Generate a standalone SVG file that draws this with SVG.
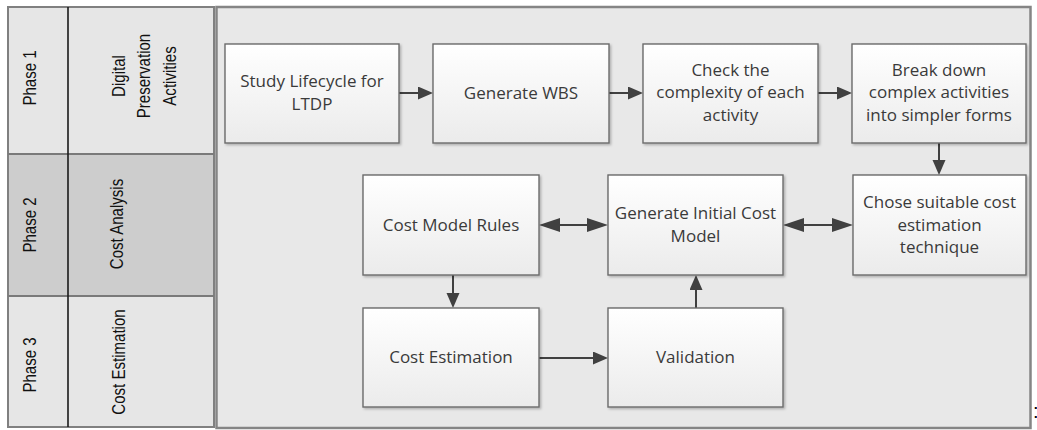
<svg xmlns="http://www.w3.org/2000/svg" width="1037" height="430" viewBox="0 0 1037 430">
<style>
.lane{stroke:none}
.frame{fill:none;stroke:#808080;stroke-width:2}
.lbl{font-family:"Liberation Sans",Arial,sans-serif;font-size:17.5px;fill:#111111;text-anchor:middle}
.box{fill:url(#g);stroke:#6b6b6b;stroke-width:1.4;filter:url(#sh)}
.t{font-family:"Open Sans","Noto Sans",sans-serif;font-size:17px;fill:#3a3a3a;text-anchor:middle}
.c{fill:none;stroke:#404040;stroke-width:2}
</style>
<defs>
<linearGradient id="g" x1="0" y1="0" x2="0" y2="1">
<stop offset="0" stop-color="#ffffff"/>
<stop offset="1" stop-color="#ebebeb"/>
</linearGradient>
<filter id="sh" x="-5%" y="-5%" width="115%" height="115%">
<feDropShadow dx="1.5" dy="1.5" stdDeviation="1" flood-color="#000" flood-opacity="0.25"/>
</filter>
<marker id="a" markerUnits="userSpaceOnUse" markerWidth="16" markerHeight="14" refX="12" refY="6.5" orient="auto">
<path d="M0,0 L15,6.5 L0,13 z" fill="#404040"/>
</marker>
<marker id="d" markerUnits="userSpaceOnUse" markerWidth="22" markerHeight="15" refX="18" refY="7" orient="auto-start-reverse">
<path d="M0,0 L21,7 L0,14 z" fill="#404040"/>
</marker>
</defs>
<rect x="0" y="0" width="1037" height="430" fill="#ffffff"/>
<g id="lanes">
<rect class="lane" x="8" y="7" width="206" height="147" fill="#e6e6e6"/>
<rect class="lane" x="8" y="154" width="206" height="142" fill="#cdcdcd"/>
<rect class="lane" x="8" y="296" width="206" height="131" fill="#e6e6e6"/>
<rect x="216.5" y="7" width="814" height="421" fill="#e8e8e8" stroke="#858585" stroke-width="2.5"/>
<rect class="frame" x="8" y="7" width="206" height="420"/>
<line x1="8" y1="154" x2="214" y2="154" stroke="#7a7a7a" stroke-width="2"/>
<line x1="8" y1="296" x2="214" y2="296" stroke="#7a7a7a" stroke-width="2"/>
<line x1="68" y1="7" x2="68" y2="427" stroke="#1a1a1a" stroke-width="1.6"/>
<text class="lbl" transform="translate(36,78) rotate(-90) scale(0.86,1)">Phase 1</text>
<text class="lbl" transform="translate(36,225) rotate(-90) scale(0.86,1)">Phase 2</text>
<text class="lbl" transform="translate(36,365) rotate(-90) scale(0.86,1)">Phase 3</text>
<text class="lbl" transform="translate(125,76) rotate(-90) scale(0.86,1)"><tspan x="0" y="0">Digital</tspan><tspan x="0" y="25.5">Preservation</tspan><tspan x="0" y="51">Activities</tspan></text>
<text class="lbl" transform="translate(123,224) rotate(-90) scale(0.86,1)">Cost Analysis</text>
<text class="lbl" transform="translate(125,362) rotate(-90) scale(0.86,1)">Cost Estimation</text>
</g>
<g id="connectors">
<line class="c" x1="399" y1="93" x2="430" y2="93" marker-end="url(#a)"/>
<line class="c" x1="609" y1="93" x2="640" y2="93" marker-end="url(#a)"/>
<line class="c" x1="818" y1="93" x2="849" y2="93" marker-end="url(#a)"/>
<line class="c" x1="939" y1="143" x2="939" y2="172" marker-end="url(#a)"/>
<line class="c" x1="542" y1="225" x2="605" y2="225" marker-start="url(#d)" marker-end="url(#d)"/>
<line class="c" x1="786" y1="225" x2="850" y2="225" marker-start="url(#d)" marker-end="url(#d)"/>
<line class="c" x1="453" y1="275" x2="453" y2="305" marker-end="url(#a)"/>
<line class="c" x1="539" y1="358" x2="605" y2="358" marker-end="url(#a)"/>
<line class="c" x1="696" y1="308" x2="696" y2="278" marker-end="url(#a)"/>
</g>
<g id="n1"><rect class="box" x="225" y="44" width="174" height="99"/><text class="t" x="312" y="87.3">Study Lifecycle for</text><text class="t" x="312" y="109.5">LTDP</text></g>
<g id="n2"><rect class="box" x="433" y="44" width="176" height="99"/><text class="t" x="521" y="98.5">Generate WBS</text></g>
<g id="n3"><rect class="box" x="643" y="44" width="175" height="99"/><text class="t" x="730.5" y="75.8">Check the</text><text class="t" x="730.5" y="98.3">complexity of each</text><text class="t" x="730.5" y="120.8">activity</text></g>
<g id="n4"><rect class="box" x="852" y="44" width="174" height="99"/><text class="t" x="939" y="75.8">Break down</text><text class="t" x="939" y="98.3">complex activities</text><text class="t" x="939" y="120.8">into simpler forms</text></g>
<g id="n5"><rect class="box" x="853" y="175" width="173" height="100"/><text class="t" x="939.5" y="208.3">Chose suitable cost</text><text class="t" x="939.5" y="230.5">estimation</text><text class="t" x="939.5" y="252.7">technique</text></g>
<g id="n6"><rect class="box" x="608" y="175" width="175" height="100"/><text class="t" x="695.5" y="219.3">Generate Initial Cost</text><text class="t" x="695.5" y="241.7">Model</text></g>
<g id="n7"><rect class="box" x="363" y="175" width="176" height="100"/><text class="t" x="451" y="230.7">Cost Model Rules</text></g>
<g id="n8"><rect class="box" x="363" y="308" width="176" height="99"/><text class="t" x="451" y="362.7">Cost Estimation</text></g>
<g id="n9"><rect class="box" x="608" y="308" width="175" height="99"/><text class="t" x="695.5" y="362.7">Validation</text></g>
<text x="1033" y="418" font-family="Liberation Sans, Arial, sans-serif" font-size="20" fill="#000">:</text>
</svg>
